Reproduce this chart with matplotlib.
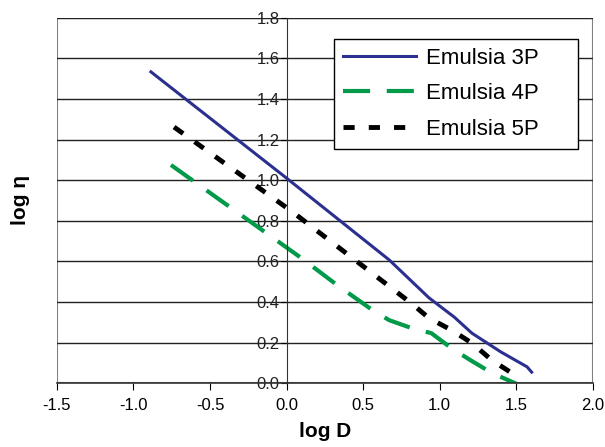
import matplotlib.pyplot as plt
from matplotlib.patches import Rectangle

plt.rcParams['font.family'] = ['Liberation Sans', 'DejaVu Sans']

# values
x_3p = [-0.886, 0.0, 0.67, 0.93, 1.095, 1.21, 1.31, 1.40, 1.47, 1.57, 1.60]
y_3p = [1.534, 1.01, 0.607, 0.42, 0.325, 0.246, 0.197, 0.153, 0.123, 0.08, 0.054]

x_4p = [-0.755, -0.05, 0.095, 0.33, 0.56, 0.67, 0.82, 0.945, 1.08, 1.20, 1.34, 1.52]
y_4p = [1.075, 0.695, 0.617, 0.483, 0.36, 0.31, 0.27, 0.246, 0.17, 0.113, 0.05, -0.01]

x_5p = [-0.735, 0.036, 0.82, 0.93, 1.08, 1.21, 1.34, 1.51]
y_5p = [1.262, 0.845, 0.39, 0.32, 0.26, 0.197, 0.113, 0.03]

labels = ["Emulsia 3P", "Emulsia 4P", "Emulsia 5P"]
xticks = [-1.5, -1.0, -0.5, 0.0, 0.5, 1.0, 1.5, 2.0]
yticks = [0.0, 0.2, 0.4, 0.6, 0.8, 1.0, 1.2, 1.4, 1.6, 1.8]

fig = plt.figure(figsize=(6.05, 4.47), dpi=100)
ax = fig.add_axes([0.094, 0.143, 0.886, 0.817])

# move the y axis to x=0 first (this resets the ticks)
for s in ["top", "right"]:
    ax.spines[s].set_visible(False)
ax.spines["left"].set_position(("data", 0))
ax.spines["left"].set_color("#333333")
ax.spines["bottom"].set_color("#333333")
ax.spines["bottom"].set_linewidth(1.2)

ax.plot(x_3p, y_3p, color="#2B2F8F", lw=2.2, label=labels[0], clip_on=False)
ax.plot(x_4p, y_4p, color="#009A49", lw=3, dashes=(6.5, 4), label=labels[1])
ax.plot(x_5p, y_5p, color="black", lw=3.5, dashes=(2.3, 2.9), label=labels[2])

ax.set_xlim(-1.5, 2.0)
ax.set_ylim(0, 1.8)
ax.set_xticks(xticks)
ax.set_xticklabels([f"{t:.1f}" for t in xticks])
ax.set_yticks(yticks)
ax.set_yticklabels([f"{t:.1f}" for t in yticks])
ax.tick_params(axis="x", direction="out", length=5, pad=6, labelsize=12)
ax.tick_params(axis="y", direction="out", length=4, pad=1, labelsize=12,
               labelcolor="#222222")

ax.grid(axis="y", color="#222222", lw=1.0)
ax.set_axisbelow(True)
ax.add_patch(Rectangle((0, 0), 1, 1, transform=ax.transAxes, fill=False,
                       edgecolor="#808080", lw=1.5, zorder=0.5))

ax.set_xlabel("log D", fontsize=15, fontweight="bold", labelpad=6)
ax.set_ylabel("log η", fontsize=15, fontweight="bold")
ax.yaxis.set_label_coords(-0.05, 0.5)

# trailing spaces give the wider right margin of the original legend box
leg = ax.legend([l + "     " for l in labels], loc="upper right",
                bbox_to_anchor=(0.972, 0.9425), fontsize=16,
                frameon=True, fancybox=False, framealpha=1, edgecolor="black",
                handlelength=3.3, handletextpad=0.45, borderpad=0.4,
                labelspacing=0.65, borderaxespad=0)
leg.get_frame().set_linewidth(1.0)

plt.savefig("out.png", dpi=100)
